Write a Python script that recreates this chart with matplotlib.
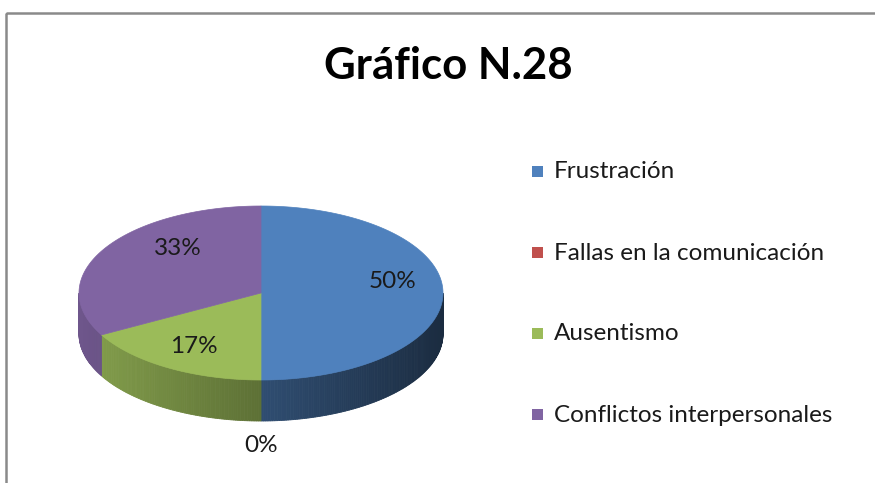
import numpy as np
import matplotlib
matplotlib.use("Agg")
import matplotlib.pyplot as plt
from matplotlib.patches import Polygon, Rectangle
from matplotlib.colors import to_rgb

# Data
categories = ["Frustración", "Fallas en la comunicación", "Ausentismo", "Conflictos interpersonales"]
values = [50, 0, 17, 33]
labels = ["50%", "0%", "17%", "33%"]
colors = ["#4F81BD", "#C0504D", "#9BBB59", "#8064A2"]

plt.rcParams["font.family"] = ["Lato", "DejaVu Sans"]

W, H = 875, 483
fig = plt.figure(figsize=(W / 100, H / 100), dpi=100)
ax = fig.add_axes([0, 0, 1, 1])
ax.set_xlim(0, W)
ax.set_ylim(H, 0)
ax.axis("off")

# chart frame
ax.add_patch(Rectangle((6, 13), W, H, fill=False, ec="#8a8a8a", lw=1.8))

ax.text(448, 66, "Gráfico N.28", ha="center", va="center", fontsize=31.5,
        fontweight="bold", color="black")

# 3D pie geometry (pixels)
cx, cy, rx, ry, depth = 261, 293, 182, 87, 41


def ell(t):
    return cx + rx * np.sin(t), cy - ry * np.cos(t)


total = float(sum(values))
edges = np.concatenate([[0], np.cumsum(values)]) / total * 2 * np.pi

# side walls (front half only: angles between pi/2 and 3pi/2)
for i, c in enumerate(colors):
    a, b = max(edges[i], np.pi / 2), min(edges[i + 1], 3 * np.pi / 2)
    if b <= a:
        continue
    base = np.array(to_rgb(c))
    ts = np.linspace(a, b, max(int((b - a) * 80), 2))
    for t0, t1 in zip(ts[:-1], ts[1:]):
        tm = 0.5 * (t0 + t1)
        f = 0.60 - 0.26 * np.sin(tm)
        x0, y0 = ell(t0)
        x1, y1 = ell(t1)
        ax.add_patch(Polygon([(x0, y0), (x1, y1), (x1, y1 + depth), (x0, y0 + depth)],
                             closed=True, fc=base * f, ec=base * f, lw=0.6))

# top faces
for i, c in enumerate(colors):
    a, b = edges[i], edges[i + 1]
    if b - a <= 0:
        continue
    ts = np.linspace(a, b, 200)
    xs, ys = ell(ts)
    pts = [(cx, cy)] + list(zip(xs, ys))
    ax.add_patch(Polygon(pts, closed=True, fc=c, ec=c, lw=0.5))

# data labels
nudge = {0: (0, -12), 3: (30, -13)}
for i, lab in enumerate(labels):
    a, b = edges[i], edges[i + 1]
    tm = 0.5 * (a + b)
    if values[i] == 0:
        x, y = ell(tm)
        y = y + depth + 24
    else:
        x = cx + 0.72 * rx * np.sin(tm)
        y = cy - 0.72 * ry * np.cos(tm)
        dx, dy = nudge.get(i, (0, 0))
        x, y = x + dx, y + dy
    ax.text(x, y, lab, ha="center", va="center", fontsize=17.5, color="#1a1a1a")

# legend
for i, (cat, c) in enumerate(zip(categories, colors)):
    y = 172 + i * 81
    ax.add_patch(Rectangle((532, y - 6), 11, 11, fc=c, ec="none"))
    ax.text(554, y, cat, ha="left", va="center", fontsize=17.5, color="#1a1a1a")

fig.savefig("out.png", dpi=100)
